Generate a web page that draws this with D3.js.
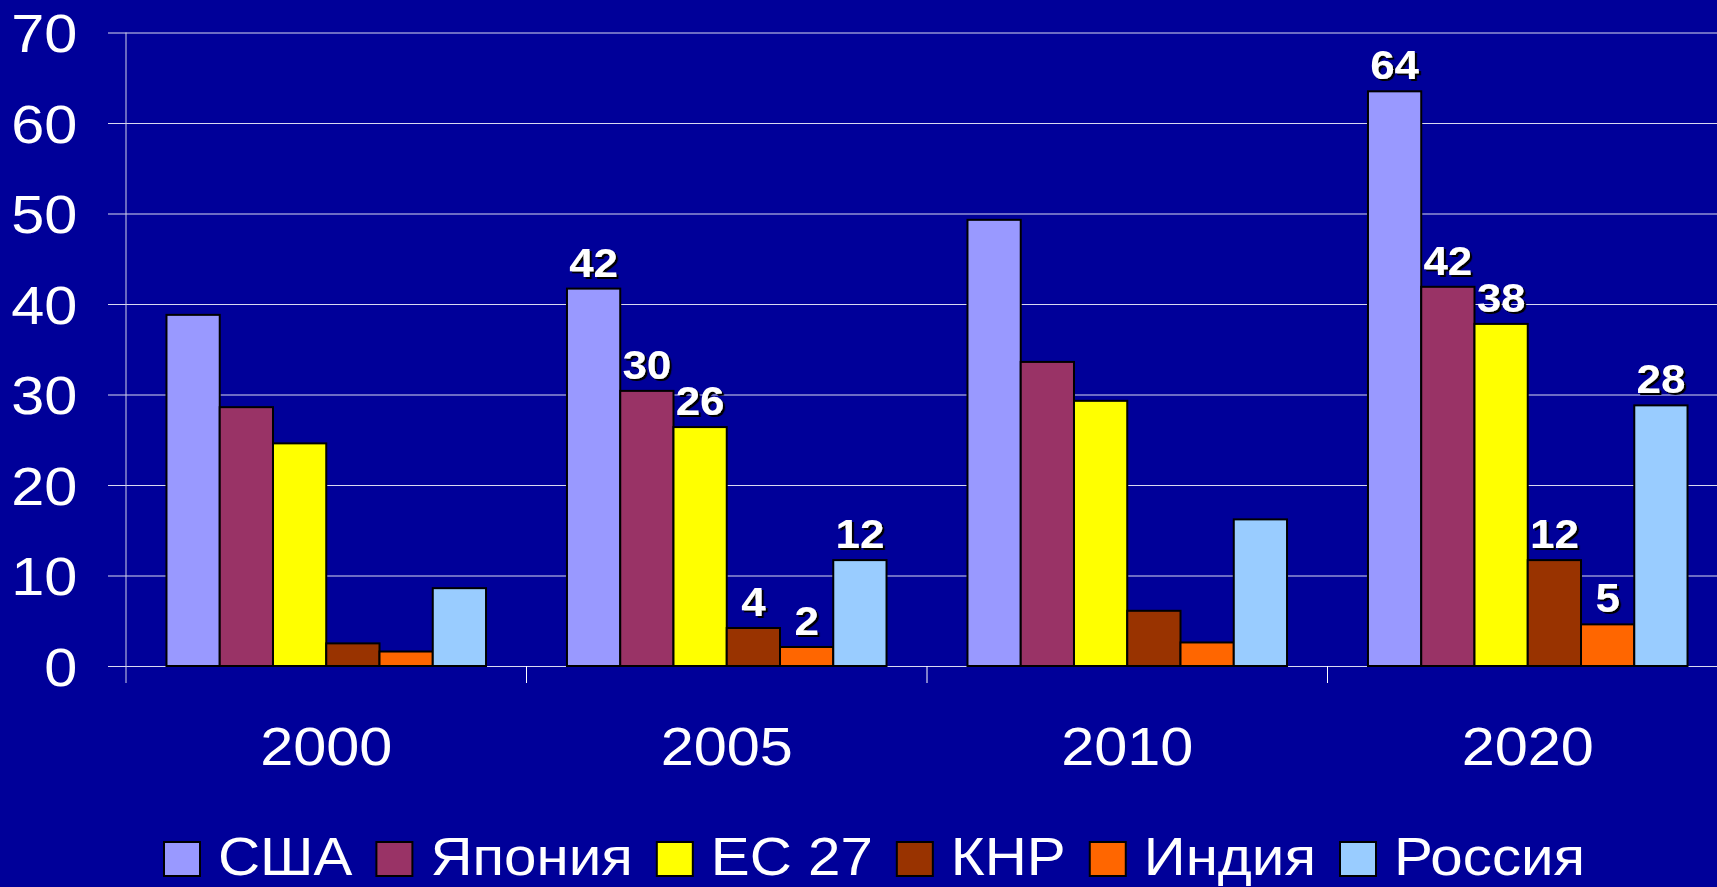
<!DOCTYPE html>
<html>
<head>
<meta charset="utf-8">
<script src="https://cdn.jsdelivr.net/npm/d3@7"></script>
<style>
  html, body { margin: 0; padding: 0; background: #000099; overflow: hidden; }
  svg { display: block; }
  text { font-family: "Liberation Sans", Arial, sans-serif; fill: #ffffff; }
</style>
</head>
<body>
<svg id="chart" width="1717" height="887"></svg>
<script>
// ---- data ----
const years = ["2000", "2005", "2010", "2020"];
const seriesNames = ["США", "Япония", "ЕС 27", "КНР", "Индия", "Россия"];
const seriesColors = ["#9999FF", "#993366", "#FFFF00", "#993300", "#FF6600", "#99CCFF"];
// values per series, in order of years
const usa    = [38.8, 41.7, 49.3, 63.5];
const japan  = [28.6, 30.4, 33.6, 41.9];
const eu27   = [24.6, 26.4, 29.3, 37.8];
const china  = [2.5, 4.2, 6.1, 11.7];
const india  = [1.6, 2.1, 2.6, 4.6];
const russia = [8.6, 11.7, 16.2, 28.8];
const seriesValues = [usa, japan, eu27, china, india, russia];
// data labels shown in the picture (only for 2005 and 2020)
const labels2005 = ["42", "30", "26", "4", "2", "12"];
const labels2020 = ["64", "42", "38", "12", "5", "28"];
const yTicks = [0, 10, 20, 30, 40, 50, 60, 70];

// ---- layout ----
const W = 1717, H = 887;
const plotLeft = 126, plotRight = 1728, plotTop = 32.5, plotBottom = 666;
const SX = 1.1; // horizontal text stretch

const svg = d3.select("#chart");
svg.append("rect").attr("width", W).attr("height", H).attr("fill", "#000099");

const defs = svg.append("defs");
const f = defs.append("filter").attr("id", "shadow").attr("x", "-20%").attr("y", "-20%").attr("width", "150%").attr("height", "150%");
f.append("feDropShadow").attr("dx", 2).attr("dy", 2).attr("stdDeviation", 0.5).attr("flood-color", "#000000").attr("flood-opacity", 1);

const x0 = d3.scaleBand().domain(years).range([plotLeft, plotRight]).padding(0);
const x1 = d3.scaleBand().domain(seriesNames).range([0, x0.bandwidth()]).paddingInner(0).paddingOuter(0.76);
const y = d3.scaleLinear().domain([0, 70]).range([plotBottom, plotTop]);

// gridlines + y labels
const gridLeft = 108;
const yAxis = d3.axisLeft(y).tickValues(yTicks).tickSize(-(W + 20 - gridLeft)).tickPadding(28).tickFormat(d3.format("d"));
const gy = svg.append("g").attr("transform", `translate(${gridLeft},0)`).call(yAxis);
gy.select(".domain").remove();
gy.selectAll(".tick line").attr("stroke", "#ffffff").attr("stroke-width", 1).attr("stroke-opacity", 0.85);
gy.selectAll(".tick text")
  .attr("fill", "#ffffff").attr("font-size", 54).attr("dy", "0.36em")
  .attr("transform", `scale(${SX},1)`)
  .style("font-family", "'Liberation Sans', Arial, sans-serif");

// vertical axis line
svg.append("line")
  .attr("x1", x0.range()[0]).attr("x2", x0.range()[0])
  .attr("y1", y(70)).attr("y2", plotBottom + 17)
  .attr("stroke", "#d0d0e8").attr("stroke-width", 1);

// category boundary ticks
svg.append("g").selectAll("line").data(years.slice(1)).join("line")
  .attr("x1", d => x0(d)).attr("x2", d => x0(d))
  .attr("y1", plotBottom).attr("y2", plotBottom + 17)
  .attr("stroke", "#ffffff").attr("stroke-width", 1);

// category labels
const xAxis = d3.axisBottom(x0).tickSize(0).tickPadding(0);
const gx = svg.append("g").attr("transform", `translate(0,${plotBottom})`).call(xAxis);
gx.select(".domain").remove();
gx.selectAll(".tick text")
  .attr("fill", "#ffffff").attr("font-size", 54)
  .attr("y", 0).attr("dy", 0)
  .attr("transform", `translate(0,99) scale(${SX},1)`)
  .style("font-family", "'Liberation Sans', Arial, sans-serif");

// bars
const groups = svg.append("g").selectAll("g").data(years).join("g")
  .attr("transform", d => `translate(${x0(d)},0)`);
groups.selectAll("rect")
  .data((yr, i) => seriesNames.map((s, k) => ({ s, k, v: seriesValues[k][i] })))
  .join("rect")
  .attr("x", d => x1(d.s))
  .attr("width", x1.bandwidth())
  .attr("y", d => y(d.v))
  .attr("height", d => y(0) - y(d.v))
  .attr("fill", d => seriesColors[d.k])
  .attr("stroke", "#000000")
  .attr("stroke-width", 2);

// data labels
const labelSets = [["2005", labels2005], ["2020", labels2020]];
labelSets.forEach(([yr, labs]) => {
  const i = years.indexOf(yr);
  seriesNames.forEach((s, k) => {
    const v = seriesValues[k][i];
    const cx = x0(yr) + x1(s) + x1.bandwidth() / 2;
    svg.append("text")
      .attr("transform", `translate(${cx},${y(v) - 12}) scale(${SX},1)`)
      .attr("text-anchor", "middle")
      .attr("font-size", 40)
      .attr("font-weight", "bold")
      .attr("filter", "url(#shadow)")
      .text(labs[k]);
  });
});

// legend
const legend = svg.append("g");
let lx = 164;
const sqW = 36, sqH = 34, sqY = 842, textBase = 875;
seriesNames.forEach((s, k) => {
  legend.append("rect")
    .attr("x", lx).attr("y", sqY).attr("width", sqW).attr("height", sqH)
    .attr("fill", seriesColors[k]).attr("stroke", "#000000").attr("stroke-width", 2);
  const tx = lx + sqW + 18;
  const t = legend.append("text")
    .attr("transform", `translate(${tx},${textBase}) scale(${SX},1)`)
    .attr("font-size", 53)
    .text(s);
  const w = t.node().getComputedTextLength() * SX;
  lx = tx + w + 24;
});
</script>
</body>
</html>
